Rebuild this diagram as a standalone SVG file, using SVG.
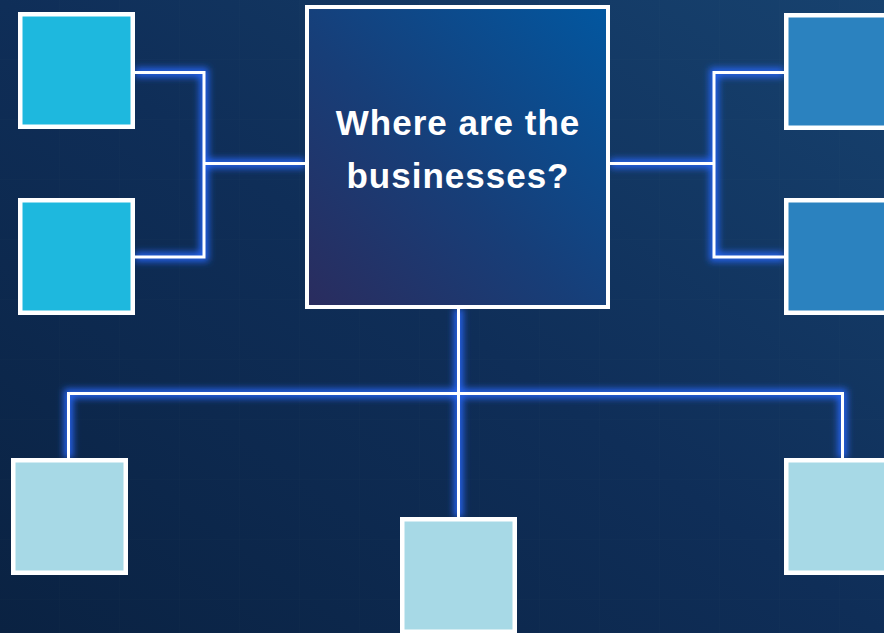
<svg xmlns="http://www.w3.org/2000/svg" width="884" height="633" viewBox="0 0 884 633">
<defs>
<linearGradient id="bg" x1="0" y1="1" x2="1" y2="0">
<stop offset="0" stop-color="#0A2242"/>
<stop offset="0.5" stop-color="#0F2E58"/>
<stop offset="1" stop-color="#17426F"/>
</linearGradient>
<linearGradient id="center" x1="0" y1="1" x2="1" y2="0">
<stop offset="0" stop-color="#2A2C5E"/>
<stop offset="0.45" stop-color="#173E78"/>
<stop offset="1" stop-color="#0257A0"/>
</linearGradient>
<pattern id="grid" width="60" height="60" patternUnits="userSpaceOnUse">
<path d="M60 0 V60 M0 60 H60" fill="none" stroke="#ffffff" stroke-opacity="0.015" stroke-width="1"/>
</pattern>
<filter id="glow" x="-20%" y="-20%" width="140%" height="140%">
<feGaussianBlur stdDeviation="3.5"/>
</filter>
<style>
.box{stroke:#ffffff;stroke-width:4.5}
.c1{fill:#1EB8DE}
.c2{fill:#2B82BF}
.c3{fill:#A7D9E6}
.glow{fill:none;stroke:#2563F0;stroke-width:9;filter:url(#glow)}
.line{fill:none;stroke:#ffffff;stroke-width:3}
.label{font-family:"Liberation Sans",Arial,sans-serif;font-weight:bold;font-size:35px;fill:#ffffff;text-anchor:middle;letter-spacing:1px}
</style>
</defs>
<rect width="884" height="633" fill="url(#bg)"/>
<rect width="884" height="633" fill="url(#grid)"/>
<g id="connectors">
<g class="glow">
<path d="M135 72.5 H204 V257 H135 M204 163.5 H305"/>
<path d="M610 163.5 H714 M784 72.5 H714 V257 H784"/>
<path d="M458.5 309 V517 M68.5 458 V393.5 H842.5 V458"/>
</g>
<g class="line">
<path d="M135 72.5 H204 V257 H135 M204 163.5 H305"/>
<path d="M610 163.5 H714 M784 72.5 H714 V257 H784"/>
<path d="M458.5 309 V517 M68.5 458 V393.5 H842.5 V458"/>
</g>
</g>
<g id="center-node">
<rect x="307" y="7" width="301" height="300" fill="url(#center)" stroke="#ffffff" stroke-width="4"/>
<text class="label" x="458" y="135">Where are the</text>
<text class="label" x="458" y="188">businesses?</text>
</g>
<g id="left-top"><rect class="box c1" x="20.25" y="14.25" width="112.5" height="112.5"/></g>
<g id="left-bottom"><rect class="box c1" x="20.25" y="200.25" width="112.5" height="112.5"/></g>
<g id="right-top"><rect class="box c2" x="786.25" y="15.25" width="112.5" height="112.5"/></g>
<g id="right-bottom"><rect class="box c2" x="786.25" y="200.25" width="112.5" height="112.5"/></g>
<g id="bottom-left"><rect class="box c3" x="13.25" y="460.25" width="112.5" height="112.5"/></g>
<g id="bottom-middle"><rect class="box c3" x="402.25" y="519.25" width="112.5" height="112.5"/></g>
<g id="bottom-right"><rect class="box c3" x="786.25" y="460.25" width="112.5" height="112.5"/></g>
</svg>
